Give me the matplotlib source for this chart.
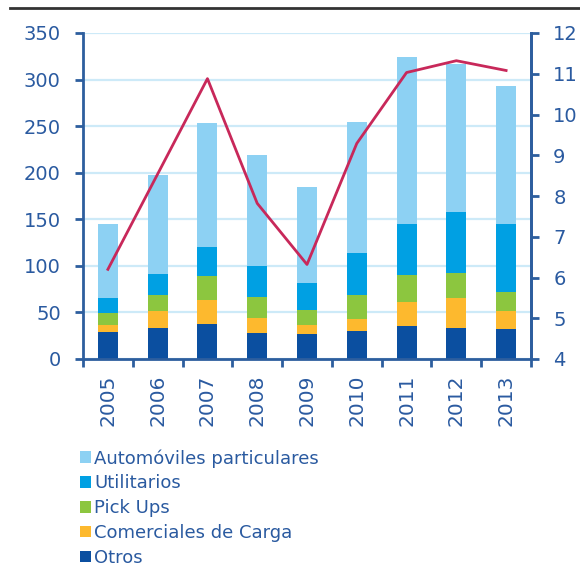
import matplotlib
matplotlib.use("Agg")
import matplotlib.pyplot as plt
from matplotlib.lines import Line2D
from matplotlib.patches import Patch

years = ["2005", "2006", "2007", "2008", "2009", "2010", "2011", "2012", "2013"]
otros = [29, 33, 38, 28, 27, 30, 35, 33, 32]
comerciales = [8, 18, 25, 16, 10, 13, 26, 32, 19]
pickups = [12, 18, 26, 23, 16, 26, 29, 27, 21]
utilitarios = [16, 22, 31, 33, 29, 45, 55, 66, 73]
automoviles = [80, 107, 133, 119, 103, 140, 179, 159, 148]
linea = [6.20, 8.54, 10.88, 7.82, 6.32, 9.29, 11.03, 11.32, 11.08]

series = [
    ("Otros", otros, "#0b4fa0"),
    ("Comerciales de Carga", comerciales, "#fdb92e"),
    ("Pick Ups", pickups, "#8cc63f"),
    ("Utilitarios", utilitarios, "#00a0e3"),
    ("Automóviles particulares", automoviles, "#8dd1f3"),
]

axis_col = "#2d5e9e"
text_col = "#2a5aa0"
grid_col = "#cdeaf8"

fig = plt.figure(figsize=(5.8, 5.85), dpi=100)
ax = fig.add_axes([83/580, 1-359/585, (531-83)/580, (359-33)/585])

x = list(range(len(years)))
bottom = [0]*len(years)
handles = {}
for name, vals, col in series:
    ax.bar(x, vals, width=0.4, bottom=bottom, color=col, zorder=2, linewidth=0)
    handles[name] = Patch(facecolor=col, edgecolor="none")
    bottom = [a + v for a, v in zip(bottom, vals)]

ax.set_xlim(-0.5, len(years)-0.5)
ax.set_ylim(0, 350)
ax.set_yticks(range(0, 351, 50))
ax.yaxis.grid(True, color=grid_col, linewidth=1.6, zorder=0)
ax.set_axisbelow(True)
ax.set_xticks(x)
ax.set_xticklabels(years, rotation=90, color=text_col, fontsize=14.5)
ax.set_xticks([i - 0.5 for i in range(len(years)+1)], minor=True)
ax.tick_params(axis="x", which="major", length=0, pad=11)
ax.tick_params(axis="x", which="minor", length=6, width=2, color=axis_col, direction="out")
ax.tick_params(axis="y", length=6, width=2, color=axis_col, labelcolor=text_col,
               labelsize=14, pad=10)
for s in ["left", "bottom", "right"]:
    ax.spines[s].set_color(axis_col)
    ax.spines[s].set_linewidth(2)
ax.spines["top"].set_visible(False)

ax2 = ax.twinx()
ax2.plot(x, linea, color="#c8285a", linewidth=2, zorder=5)
ax2.set_ylim(4, 12)
ax2.set_yticks(range(4, 13))
ax2.tick_params(axis="y", length=6, width=2, color=axis_col, labelcolor=text_col,
                labelsize=14, pad=10)
for s in ["left", "bottom", "top"]:
    ax2.spines[s].set_visible(False)
ax2.spines["right"].set_color(axis_col)
ax2.spines["right"].set_linewidth(2)

order = ["Automóviles particulares", "Utilitarios", "Pick Ups", "Comerciales de Carga", "Otros"]
leg = fig.legend([handles[n] for n in order], order, loc="upper left",
                 bbox_to_anchor=(80/580, 1-449/585), frameon=False,
                 fontsize=13, handlelength=0.6, handleheight=0.6,
                 handletextpad=0.2, labelspacing=0.38, borderaxespad=0, borderpad=0)
for t in leg.get_texts():
    t.set_color(text_col)

fig.add_artist(Line2D([10/580, 1], [1-8/585, 1-8/585], transform=fig.transFigure,
                      color="#333333", linewidth=2))

fig.savefig("out.png", dpi=100)
